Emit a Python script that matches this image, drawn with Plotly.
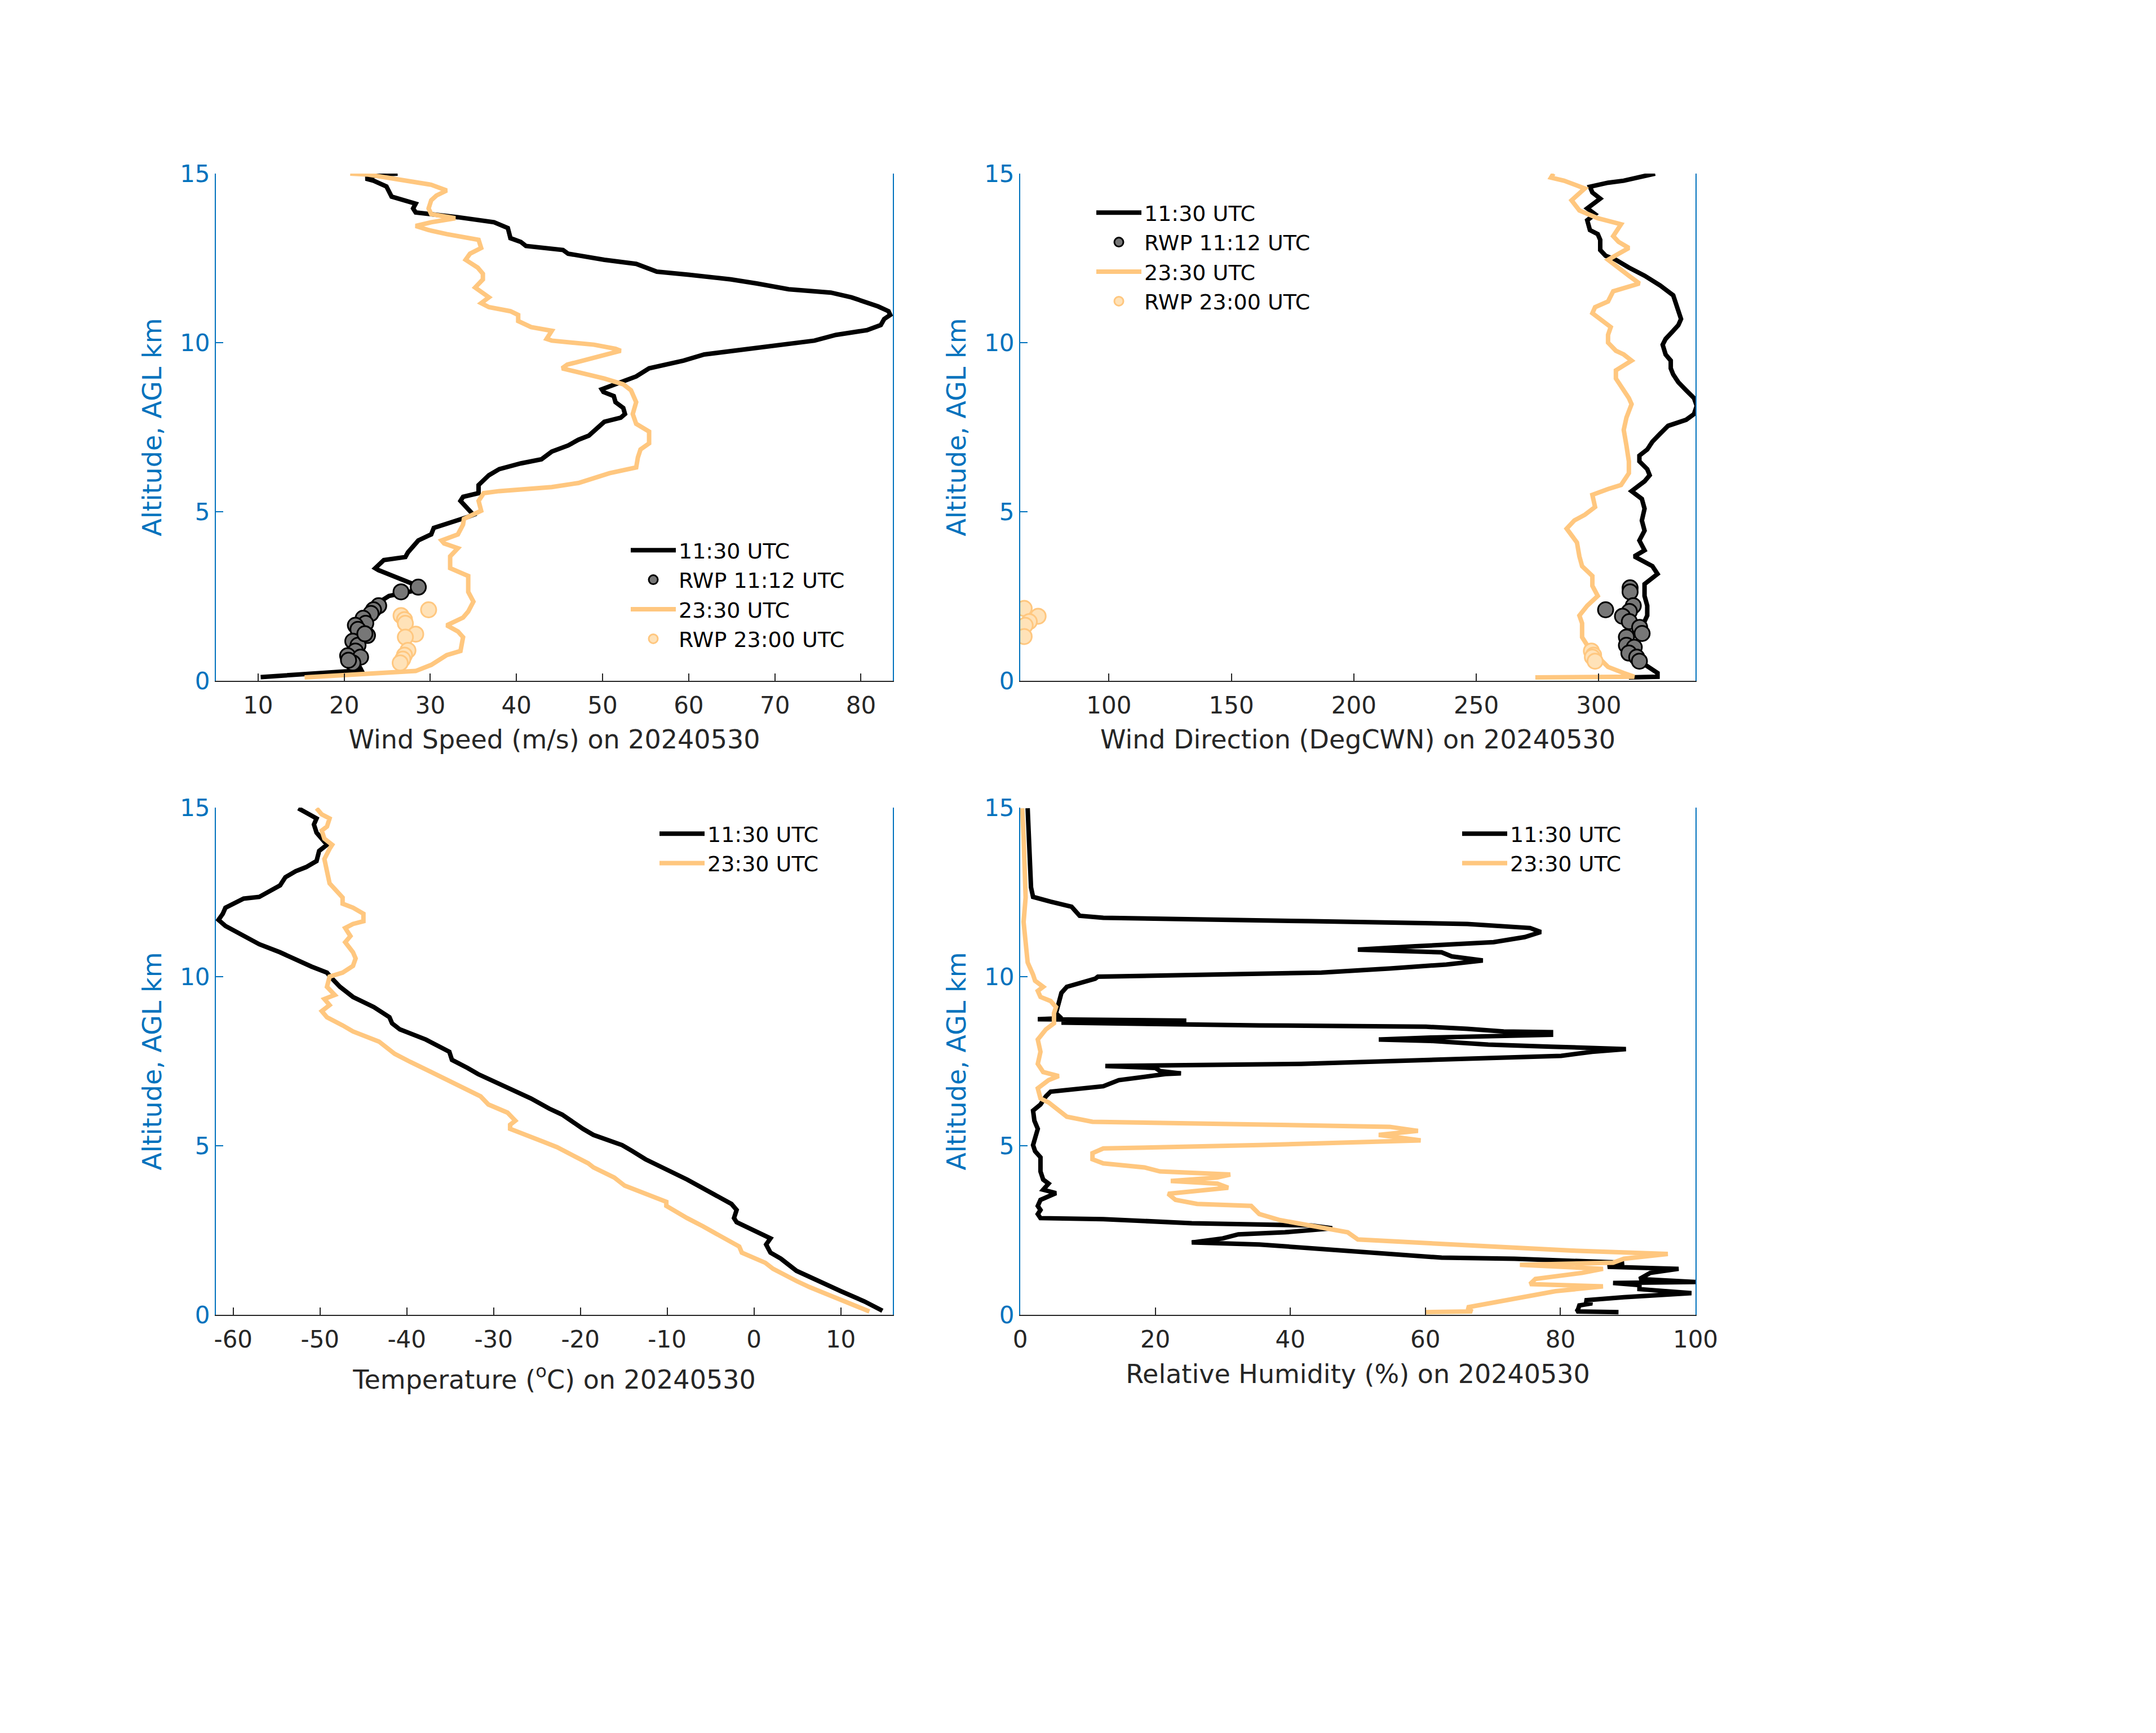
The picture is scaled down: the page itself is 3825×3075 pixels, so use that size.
import plotly.graph_objects as go
from plotly.subplots import make_subplots

# --- sounding profiles (altitude in km AGL) ---

# wind speed (m/s)
ws_1130_km = [0.11, 0.31, 0.36, 0.64, 1.23, 1.81, 2.22, 2.51, 2.69, 2.75, 3.27, 3.33, 3.57, 3.66, 3.80,
              4.03, 4.15, 4.33, 4.52, 4.85, 4.91, 5.32, 5.44, 5.55, 5.79, 6.08, 6.26, 6.43, 6.55, 6.78,
              6.96, 7.13, 7.25, 7.66, 7.78, 7.89, 8.07, 8.24, 8.42, 8.54, 8.62, 8.83, 9.00, 9.24, 9.47,
              9.65, 9.82, 9.94, 10.06, 10.23, 10.37, 10.52, 10.70, 10.82, 10.93, 11.07, 11.34, 11.48, 11.58, 11.75,
              11.87, 12.01, 12.10, 12.33, 12.45, 12.63, 12.74, 12.86, 12.98, 13.09, 13.39, 13.56, 13.71, 13.85, 13.97,
              14.11, 14.21, 14.32, 14.62, 14.79, 14.85, 14.97, 15.0]
ws_1130 = [10.3, 22.0, 21.9, 21.3, 21.6, 22.2, 23.4, 25.2, 28.6, 29.1, 24.0, 23.6, 24.6, 27.1, 27.4,
           28.3, 28.6, 30.1, 30.4, 34.4, 35.0, 33.5, 33.8, 35.6, 35.6, 36.8, 38.0, 40.5, 42.9, 44.1,
           46.0, 47.2, 48.4, 50.2, 52.1, 52.6, 52.4, 51.5, 51.3, 50.1, 49.9, 52.1, 53.9, 55.4, 59.4,
           61.8, 67.3, 71.6, 74.6, 77.1, 80.7, 82.3, 82.7, 83.4, 83.2, 82.0, 78.9, 76.5, 71.6, 67.9,
           64.9, 60.0, 56.3, 53.9, 50.2, 46.0, 45.4, 41.1, 40.5, 39.3, 39.0, 37.4, 33.2, 28.3, 28.0,
           28.3, 27.1, 25.5, 24.9, 23.4, 22.5, 24.0, 26.2]
ws_2330_km = [0.10, 0.28, 0.29, 0.47, 0.64, 0.76, 0.88, 1.29, 1.46, 1.64, 1.87, 2.05, 2.34, 2.63, 3.10,
              3.33, 3.68, 3.92, 4.06, 4.15, 4.33, 4.62, 4.79, 5.03, 5.32, 5.55, 5.61, 5.73, 5.85, 6.14,
              6.31, 6.61, 6.84, 7.02, 7.37, 7.60, 7.89, 8.24, 8.59, 8.77, 8.94, 9.06, 9.24, 9.35, 9.76,
              9.82, 9.94, 10.06, 10.11, 10.35, 10.46, 10.64, 10.82, 10.93, 11.05, 11.17, 11.34, 11.63, 11.87, 12.04,
              12.22, 12.45, 12.63, 12.80, 13.04, 13.21, 13.33, 13.45, 13.56, 13.68, 13.80, 13.97, 14.21, 14.35, 14.50,
              14.67, 14.85, 14.97, 15.0]
ws_2330 = [15.4, 26.4, 28.3, 30.1, 31.3, 31.9, 33.5, 33.8, 33.2, 31.9, 33.8, 34.4, 35.0, 34.4, 34.4,
           32.3, 32.3, 33.2, 31.6, 31.3, 33.2, 33.8, 33.9, 35.9, 35.6, 36.2, 38.0, 44.1, 47.2, 50.8,
           53.9, 54.1, 54.4, 55.4, 55.4, 53.9, 53.5, 53.9, 53.3, 52.4, 50.2, 48.4, 45.3, 45.9, 52.1,
           51.5, 49.0, 44.1, 43.5, 44.1, 41.7, 40.2, 40.2, 39.3, 36.8, 35.9, 36.8, 35.2, 36.1, 36.1,
           35.5, 34.1, 34.6, 35.9, 35.6, 31.9, 29.8, 28.3, 30.1, 32.9, 30.1, 29.8, 30.1, 30.7, 31.9,
           30.1, 25.9, 22.8, 20.7]
rwp_ws_1112_km = [2.77, 2.63, 2.22, 2.10, 1.99, 1.85, 1.70, 1.64, 1.52, 1.34, 1.17, 1.05, 0.88, 0.74, 0.70,
                  0.53, 0.61, 1.39]
rwp_ws_1112 = [28.6, 26.6, 24.0, 23.4, 23.1, 22.2, 22.5, 21.3, 21.6, 22.7, 21.0, 21.6, 21.3, 20.4, 21.9,
               21.0, 20.5, 22.4]
rwp_ws_2300_km = [2.10, 1.93, 1.81, 1.70, 1.38, 1.29, 0.90, 0.76, 0.64, 0.53]
rwp_ws_2300 = [29.8, 26.6, 27.0, 27.1, 28.3, 27.1, 27.4, 27.0, 26.8, 26.5]

# wind direction (deg)
wd_1130_km = [0.10, 0.12, 0.23, 0.47, 0.64, 0.88, 1.23, 1.58, 1.93, 2.22, 2.51, 2.86, 3.16, 3.39, 3.62,
              3.68, 3.86, 4.15, 4.44, 4.74, 5.09, 5.38, 5.61, 5.67, 5.90, 6.08, 6.26, 6.49, 6.66, 6.84,
              7.07, 7.31, 7.54, 7.72, 7.89, 8.13, 8.36, 8.59, 8.83, 9.06, 9.24, 9.47, 9.65, 9.94, 10.11,
              10.35, 10.52, 10.70, 10.93, 11.17, 11.40, 11.69, 11.98, 12.22, 12.45, 12.57, 12.74, 13.04, 13.21, 13.33,
              13.62, 13.80, 13.97, 14.26, 14.44, 14.61, 14.73, 14.79, 14.91, 15.0]
wd_1130 = [312.3, 324.0, 324.0, 318.7, 315.5, 314.5, 316.6, 317.6, 319.8, 319.8, 318.7, 318.7, 324.0, 321.9, 316.6,
           314.5, 318.7, 316.6, 318.7, 317.6, 318.7, 317.6, 313.4, 314.5, 318.7, 320.8, 319.8, 316.6, 316.6, 319.8,
           321.9, 325.1, 328.3, 335.7, 338.9, 340.0, 338.9, 335.7, 332.5, 330.4, 329.4, 329.4, 327.3, 326.1, 327.3,
           330.4, 332.5, 333.6, 332.5, 331.5, 330.4, 325.1, 318.7, 312.3, 307.0, 302.8, 300.6, 300.6, 299.6, 296.4,
           295.3, 298.5, 295.3, 300.6, 297.4, 296.4, 303.8, 310.2, 316.6, 323.0]
wd_2330_km = [0.10, 0.12, 0.23, 0.41, 0.64, 0.82, 1.05, 1.29, 1.70, 1.93, 2.22, 2.51, 2.81, 3.10, 3.39,
              3.68, 4.09, 4.27, 4.50, 4.74, 4.91, 5.14, 5.50, 5.67, 5.79, 6.14, 6.49, 6.96, 7.42, 7.78,
              8.18, 8.36, 8.71, 8.94, 9.18, 9.47, 9.65, 9.76, 10.00, 10.23, 10.46, 10.70, 10.87, 11.05, 11.22,
              11.52, 11.75, 11.98, 12.22, 12.45, 12.63, 12.80, 12.98, 13.15, 13.50, 13.68, 13.91, 14.21, 14.56, 14.79,
              14.88, 15.0]
wd_2330 = [274.1, 314.5, 310.2, 303.8, 300.6, 297.4, 295.3, 293.2, 293.2, 292.1, 295.3, 299.6, 297.4, 297.4, 293.2,
           292.1, 291.1, 289.0, 286.9, 290.0, 294.3, 298.5, 297.4, 303.8, 309.1, 312.3, 312.3, 311.3, 310.2, 311.3,
           313.4, 312.3, 309.1, 307.0, 307.0, 313.4, 310.2, 307.0, 303.8, 303.8, 304.9, 300.6, 297.4, 298.5, 303.8,
           305.9, 316.6, 312.3, 308.1, 303.8, 308.1, 312.3, 308.1, 305.9, 309.1, 299.6, 292.1, 288.9, 294.3, 285.8,
           280.5, 281.5]
rwp_wd_1112_km = [2.10, 2.75, 2.63, 2.22, 2.05, 1.91, 1.75, 1.58, 1.40, 1.29, 1.05, 0.99, 0.82, 0.70, 0.58]
rwp_wd_1112 = [302.8, 312.8, 312.8, 314.1, 312.5, 309.7, 312.5, 316.7, 317.7, 311.3, 311.3, 314.5, 312.3, 315.5, 316.6]
rwp_wd_2300_km = [2.14, 1.91, 1.75, 1.64, 1.31, 0.88, 0.76, 0.70, 0.58]
rwp_wd_2300 = [65.4, 71.1, 67.5, 65.8, 65.4, 297.0, 297.9, 297.4, 298.5]

# temperature (deg C)
t_1130_km = [0.12, 0.40, 0.70, 0.94, 1.06, 1.30, 1.60, 1.66, 1.84, 2.08, 2.26, 2.50, 2.74, 2.86, 3.10,
             3.28, 3.58, 4.00, 4.30, 4.60, 4.84, 5.02, 5.32, 5.50, 5.92, 6.10, 6.40, 6.82, 7.12, 7.30,
             7.54, 7.78, 7.90, 8.14, 8.44, 8.62, 8.80, 9.10, 9.40, 9.70, 9.94, 10.12, 10.30, 10.44, 10.72,
             10.96, 11.50, 11.68, 11.86, 12.04, 12.16, 12.31, 12.36, 12.52, 12.70, 12.94, 13.12, 13.24, 13.42, 13.72,
             13.90, 14.26, 14.50, 14.68, 14.80, 14.98]
t_1130 = [14.8, 12.7, 10.0, 7.9, 6.7, 4.9, 3.4, 3.1, 1.9, 1.4, 1.9, -0.2, -2.0, -2.3, -2.0,
          -2.6, -4.7, -7.7, -10.1, -12.5, -14.0, -15.2, -18.5, -19.7, -22.1, -23.6, -25.7, -29.4, -31.8, -33.0,
          -34.8, -35.1, -36.0, -37.8, -40.8, -41.7, -42.0, -43.8, -46.2, -47.7, -48.6, -49.2, -51.0, -52.2, -54.6,
          -57.0, -60.9, -61.7, -61.2, -60.9, -60.0, -58.8, -57.0, -55.8, -54.6, -54.0, -52.8, -51.6, -50.4, -50.1,
          -49.2, -50.4, -50.7, -50.4, -51.3, -52.5]
t_2330_km = [0.10, 0.34, 0.52, 0.82, 1.00, 1.24, 1.36, 1.54, 1.84, 2.02, 2.20, 2.44, 2.62, 2.86, 3.04,
             3.22, 3.34, 3.52, 3.82, 4.06, 4.36, 4.48, 4.72, 4.96, 5.14, 5.26, 5.50, 5.62, 5.74, 5.98,
             6.22, 6.46, 6.64, 6.94, 7.18, 7.48, 7.72, 8.08, 8.38, 8.56, 8.80, 8.98, 9.16, 9.34, 9.46,
             9.70, 10.00, 10.12, 10.32, 10.54, 10.72, 11.02, 11.20, 11.44, 11.56, 11.64, 11.86, 12.04, 12.16, 12.34,
             12.52, 12.76, 13.12, 13.48, 13.78, 13.90, 14.08, 14.32, 14.44, 14.68, 14.80, 14.98]
t_2330 = [13.3, 10.9, 9.1, 6.4, 4.9, 3.1, 2.2, 1.3, -1.4, -1.7, -2.9, -4.7, -5.9, -7.7, -8.9,
          -10.1, -10.1, -11.9, -14.9, -16.1, -18.5, -19.1, -20.9, -22.7, -24.5, -25.7, -28.1, -28.1, -27.5, -28.4,
          -30.6, -31.5, -33.0, -35.4, -37.2, -39.6, -41.4, -43.2, -46.2, -47.4, -49.2, -49.8, -48.9, -49.5, -48.3,
          -49.2, -48.9, -47.4, -46.2, -45.9, -46.2, -47.1, -46.5, -47.1, -46.2, -45.0, -45.0, -46.2, -47.4, -47.4,
          -48.0, -48.9, -49.2, -49.5, -48.9, -48.6, -49.5, -49.8, -49.2, -48.9, -49.8, -50.4]

# relative humidity (%)
rh_1130_km = [0.08, 0.10, 0.16, 0.28, 0.34, 0.43, 0.52, 0.58, 0.64, 0.76, 0.88, 0.94, 0.97, 1.06, 1.24,
              1.36, 1.42, 1.54, 1.66, 1.69, 1.75, 1.96, 2.08, 2.14, 2.26, 2.38, 2.44, 2.56, 2.64, 2.71,
              2.83, 2.86, 2.98, 3.10, 3.22, 3.40, 3.60, 3.70, 3.88, 4.00, 4.24, 4.66, 4.84, 5.02, 5.26,
              5.50, 5.74, 6.04, 6.22, 6.46, 6.60, 6.66, 6.76, 6.94, 7.00, 7.12, 7.14, 7.21, 7.30, 7.36,
              7.42, 7.51, 7.66, 7.78, 7.86, 7.93, 7.99, 8.10, 8.14, 8.20, 8.28, 8.36, 8.38, 8.46, 8.52,
              8.56, 8.64, 8.70, 8.74, 8.77, 8.92, 9.22, 9.52, 9.70, 9.82, 9.94, 10.00, 10.03, 10.12, 10.24,
              10.36, 10.48, 10.60, 10.72, 10.80, 10.90, 11.02, 11.17, 11.32, 11.44, 11.56, 11.64, 11.74, 11.80, 12.07,
              12.22, 12.36, 12.64, 13.18, 14.14, 14.98]
rh_1130 = [88.6, 82.4, 82.6, 82.8, 84.7, 83.6, 89.4, 95.5, 99.4, 91.7, 91.7, 87.8, 100.2, 91.7, 93.3,
           97.5, 87.0, 89.4, 73.2, 62.4, 58.5, 44.6, 35.4, 25.4, 30.0, 32.3, 39.2, 46.2, 43.1, 25.4,
           12.3, 3.0, 2.6, 3.0, 2.6, 3.0, 5.3, 3.4, 4.2, 3.4, 3.0, 3.0, 2.2, 1.9, 2.2,
           2.6, 2.1, 1.9, 3.0, 3.8, 4.5, 7.6, 12.3, 14.6, 16.9, 21.5, 23.8, 20.7, 20.0, 12.6,
           41.6, 55.4, 80.1, 84.7, 89.7, 78.6, 69.3, 60.8, 53.1, 60.8, 78.6, 78.6, 71.6, 66.2, 60.1,
           35.4, 6.1, 24.6, 2.6, 6.1, 5.3, 5.7, 6.1, 6.9, 9.2, 11.1, 11.5, 20.0, 44.6, 54.7,
           63.1, 68.5, 63.9, 62.4, 50.0, 58.5, 70.1, 74.7, 77.1, 75.5, 66.2, 43.1, 12.3, 8.8, 7.6,
           4.5, 1.9, 1.6, 1.5, 1.2, 1.1]
rh_2330_km = [0.08, 0.10, 0.22, 0.46, 0.70, 0.84, 0.91, 1.06, 1.24, 1.36, 1.48, 1.54, 1.66, 1.80, 1.90,
              2.04, 2.23, 2.44, 2.62, 2.80, 2.98, 3.22, 3.28, 3.40, 3.58, 3.76, 3.88, 3.96, 4.06, 4.15,
              4.24, 4.36, 4.48, 4.60, 4.78, 4.92, 5.02, 5.16, 5.32, 5.44, 5.56, 5.62, 5.71, 5.86, 6.10,
              6.28, 6.40, 6.70, 6.94, 7.06, 7.18, 7.42, 7.78, 8.14, 8.44, 8.62, 8.92, 9.10, 9.28, 9.40,
              9.58, 9.70, 9.88, 10.06, 10.42, 10.90, 11.62, 12.34, 13.18, 14.14, 14.98]
rh_2330 = [60.1, 66.9, 66.2, 72.4, 79.3, 86.3, 75.5, 76.3, 83.2, 86.3, 74.0, 87.8, 89.4, 95.9, 81.7,
           67.8, 50.0, 48.5, 43.1, 38.5, 35.4, 34.2, 26.2, 23.0, 21.9, 30.8, 29.2, 22.3, 29.2, 31.1,
           20.7, 18.4, 12.3, 10.7, 10.7, 12.3, 35.4, 59.3, 53.1, 58.9, 54.7, 35.4, 10.7, 6.9, 5.3,
           4.2, 3.0, 2.6, 4.2, 5.7, 3.4, 2.6, 3.0, 2.6, 3.8, 5.0, 5.0, 5.3, 4.5, 3.0,
           2.6, 3.4, 2.2, 1.9, 1.1, 0.8, 0.5, 0.8, 0.7, 0.5, 0.3]

BLUE = "#0072BD"
TXT = "#262626"
ORANGE = "#FFC77F"
FONT = "DejaVu Sans"
LW = 8

fig = make_subplots(rows=2, cols=2)


def add_line(x, y, name, color, row, col, legend):
    fig.add_trace(go.Scatter(x=x, y=y, mode="lines", name=name,
                             line=dict(color=color, width=LW), legend=legend),
                  row=row, col=col)


def add_dots(x, y, name, fill, edge, row, col, legend):
    fig.add_trace(go.Scatter(x=x, y=y, mode="markers", name=name, legend=legend,
                             marker=dict(size=27, color=fill, line=dict(color=edge, width=3))),
                  row=row, col=col)


add_line(ws_1130, ws_1130_km, "11:30 UTC", "black", 1, 1, "legend")
add_dots(rwp_ws_1112, rwp_ws_1112_km, "RWP 11:12 UTC", "#777777", "black", 1, 1, "legend")
add_line(ws_2330, ws_2330_km, "23:30 UTC", ORANGE, 1, 1, "legend")
add_dots(rwp_ws_2300, rwp_ws_2300_km, "RWP 23:00 UTC", "#FFE2B8", ORANGE, 1, 1, "legend")

add_line(wd_1130, wd_1130_km, "11:30 UTC", "black", 1, 2, "legend2")
add_dots(rwp_wd_1112, rwp_wd_1112_km, "RWP 11:12 UTC", "#777777", "black", 1, 2, "legend2")
add_line(wd_2330, wd_2330_km, "23:30 UTC", ORANGE, 1, 2, "legend2")
add_dots(rwp_wd_2300, rwp_wd_2300_km, "RWP 23:00 UTC", "#FFE2B8", ORANGE, 1, 2, "legend2")

add_line(t_1130, t_1130_km, "11:30 UTC", "black", 2, 1, "legend3")
add_line(t_2330, t_2330_km, "23:30 UTC", ORANGE, 2, 1, "legend3")

add_line(rh_1130, rh_1130_km, "11:30 UTC", "black", 2, 2, "legend4")
add_line(rh_2330, rh_2330_km, "23:30 UTC", ORANGE, 2, 2, "legend4")

W, H = 3825, 3075
col_dom = [[375 / W, 1576 / W], [1802 / W, 3000 / W]]
row_dom = [[1 - 1200 / H, 1 - 300 / H], [1 - 2325 / H, 1 - 1425 / H]]

x_titles = ["Wind Speed (m/s) on 20240530", "Wind Direction (DegCWN) on 20240530",
            "Temperature (<sup>o</sup>C) on 20240530", "Relative Humidity (%) on 20240530"]
x_standoff = [20, 20, 31, 21]
x_ranges = [[5.1, 83.7], [63.8, 339.5], [-62.0, 16.0], [0, 100]]
x_ticks = [[10, 20, 30, 40, 50, 60, 70, 80], [100, 150, 200, 250, 300],
           [-60, -50, -40, -30, -20, -10, 0, 10], [0, 20, 40, 60, 80, 100]]

for i in range(4):
    r, c = divmod(i, 2)
    sfx = "" if i == 0 else str(i + 1)
    fig.layout["xaxis" + sfx].update(
        domain=col_dom[c], range=x_ranges[i], automargin=False,
        tickvals=x_ticks[i], ticktext=[str(v) for v in x_ticks[i]],
        showline=True, linecolor=TXT, linewidth=2, mirror=False,
        ticks="inside", ticklen=13, tickwidth=2, tickcolor=TXT, ticklabelstandoff=6,
        tickfont=dict(family=FONT, size=42, color=TXT),
        showgrid=False, zeroline=False,
        title=dict(text=x_titles[i], font=dict(family=FONT, size=46, color=TXT), standoff=x_standoff[i]))
    fig.layout["yaxis" + sfx].update(
        domain=row_dom[r], range=[0, 15], automargin=False,
        tickvals=[0, 5, 10, 15],
        showline=True, linecolor=BLUE, linewidth=2, mirror=True,
        ticks="inside", ticklen=13, tickwidth=2, tickcolor=BLUE,
        tickfont=dict(family=FONT, size=42, color=BLUE),
        showgrid=False, zeroline=False,
        title=dict(text="Altitude, AGL km", font=dict(family=FONT, size=46, color=BLUE), standoff=18))

leg_style = dict(font=dict(family=FONT, size=38, color="black"), bgcolor="rgba(0,0,0,0)",
                 borderwidth=0, itemwidth=80, xanchor="left", yanchor="top", tracegroupgap=0)

fig.update_layout(
    width=W, height=H,
    margin=dict(l=0, r=0, t=0, b=0),
    paper_bgcolor="white", plot_bgcolor="white",
    font=dict(family=FONT, color=TXT),
    legend=dict(x=1106 / W, y=1 - 937 / H, **leg_style),
    legend2=dict(x=1932 / W, y=1 - 338 / H, **leg_style),
    legend3=dict(x=1157 / W, y=1 - 1440 / H, **leg_style),
    legend4=dict(x=2581 / W, y=1 - 1440 / H, **leg_style),
)

fig.write_html("out.html")
